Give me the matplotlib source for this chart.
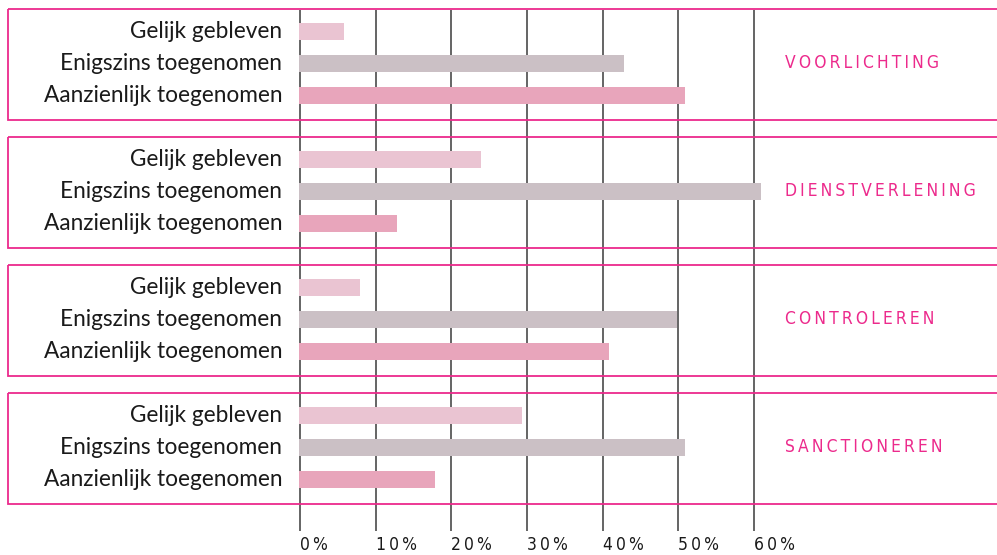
import matplotlib
matplotlib.use("Agg")
import matplotlib.pyplot as plt
from matplotlib.patches import Rectangle

# Data (percent of respondents)
categories = ["VOORLICHTING", "DIENSTVERLENING", "CONTROLEREN", "SANCTIONEREN"]
answers = ["Gelijk gebleven", "Enigszins toegenomen", "Aanzienlijk toegenomen"]
gelijk = [6, 24, 8, 29.5]
enigszins = [43, 61, 50, 51]
aanzienlijk = [51, 13, 41, 18]
ticks = [0, 10, 20, 30, 40, 50, 60]

bar_colors = ["#eac4d2", "#cbc0c5", "#e8a5bb"]
pink = "#ec2a8c"
narrow = dict(family=["DejaVu Sans"], fontstretch="condensed")

W, H = 997, 555
fig = plt.figure(figsize=(W / 100, H / 100), dpi=100)
ax = fig.add_axes([0, 0, 1, 1])
ax.axis("off")

# 0% sits at x=300px, 60% at x=754px
scale = 60 / 454.0
def px(x):
    return (x - 300) * scale

ax.set_xlim(px(0), px(W))
ax.set_ylim(H, 0)

box_top, box_h, box_step = 9, 111, 128
row_off = [22.3, 54.3, 86.3]

# gridlines
ax.vlines(ticks, 10, 531, colors="#4a4a4a", linewidth=1.2, zorder=1)

for i, cat in enumerate(categories):
    top = box_top + i * box_step
    ax.add_patch(Rectangle((px(8), top), px(1010) - px(8), box_h, fill=False,
                           edgecolor=pink, linewidth=1.3, zorder=3, clip_on=False))
    vals = [gelijk[i], enigszins[i], aanzienlijk[i]]
    ys = [top + o for o in row_off]
    ax.barh(ys, vals, height=16.5, left=px(299), color=bar_colors, zorder=2)
    for y, lab in zip(ys, answers):
        ax.text(px(282), y, lab, ha="right", va="center", fontsize=16.3,
                family=["Lato", "DejaVu Sans"], color="#1a1a1a")
    ax.text(px(785), top + 54, "\u2009".join(cat), ha="left", va="center",
            fontsize=12.5, color=pink, **narrow)

for t in ticks:
    ax.text(t, 545, "\u2009".join(f"{t}%"), ha="left", va="center", fontsize=12.5,
            color="#1a1a1a", **narrow)

fig.savefig("out.png", dpi=100)
